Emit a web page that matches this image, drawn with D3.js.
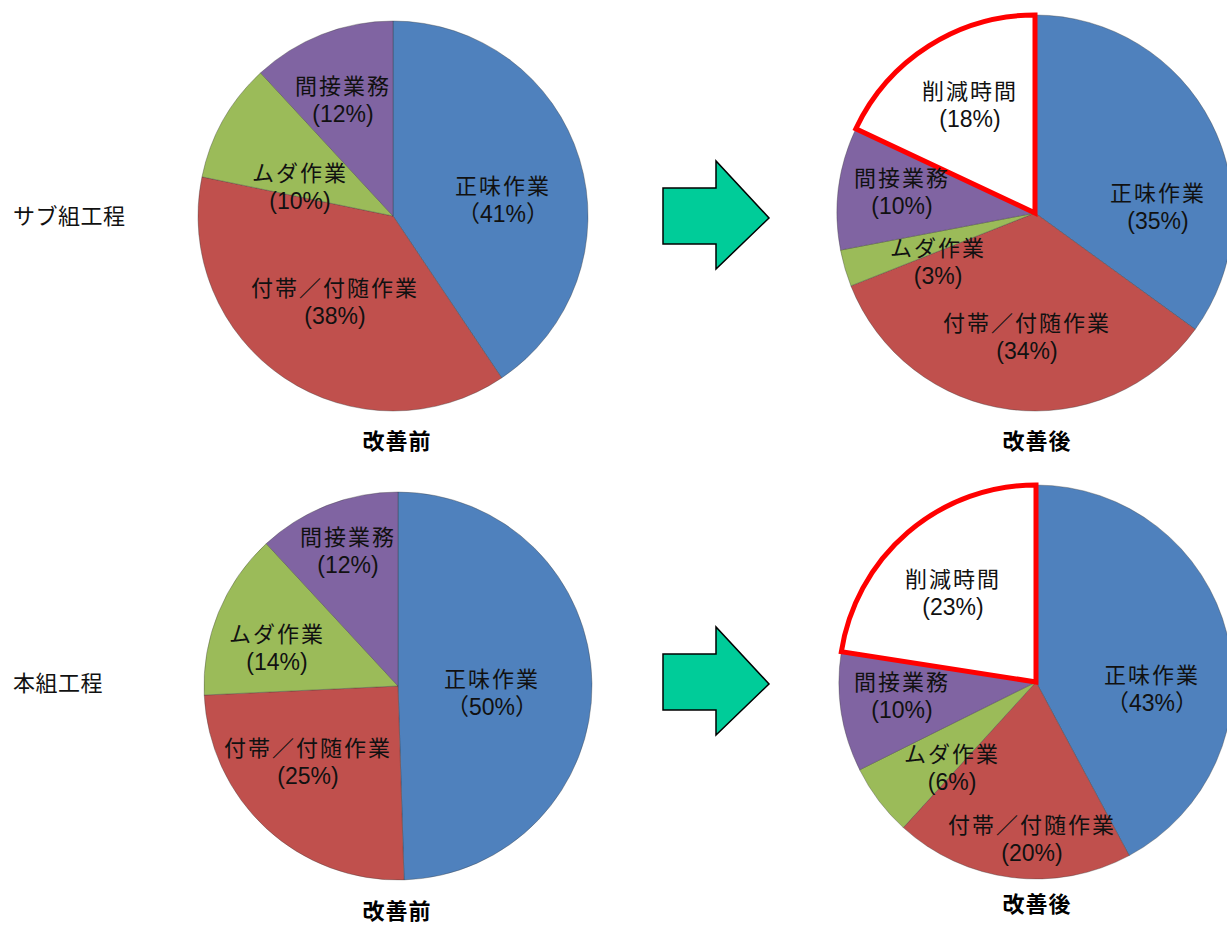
<!DOCTYPE html>
<html><head><meta charset="utf-8">
<script src="https://cdn.jsdelivr.net/npm/d3@7"></script>
<style>
html,body{margin:0;padding:0;background:#fff;}
svg{display:block;}
</style></head>
<body>
<svg id="c" width="1227" height="926"></svg>
<script>
// ---- data ----
const categories = ["正味作業", "付帯／付随作業", "ムダ作業", "間接業務", "削減時間"];
const subBefore  = [41, 38, 10, 12];
const subAfter   = [35, 34, 3, 10, 18];
const mainBefore = [50, 25, 14, 12];
const mainAfter  = [43, 20, 6, 10, 23];
const rowLabels   = ["サブ組工程", "本組工程"];
const panelTitles = ["改善前", "改善後", "改善前", "改善後"];
// fullwidth parentheses used in original for some labels
const fullParen = [
  [true, false, false, false],
  [false, false, false, false, false],
  [true, false, false, false],
  [true, false, false, false, false]
];

// ---- layout ----
const colors = ["#4f81bd", "#c0504d", "#9bbb59", "#8064a2", "#ffffff"];
const panels = [
  {values: subBefore,  cx: 393,  cy: 216, r: 195, title: [397, 442],
   lab: [[110,-17],[-58,85],[-93,-30],[-50,-117]]},
  {values: subAfter,   cx: 1035, cy: 213, r: 198, title: [1037, 442],
   lab: [[123,-7],[-8,123],[-97,48],[-133,-22],[-65,-109]]},
  {values: mainBefore, cx: 398,  cy: 686, r: 194, title: [397, 912],
   lab: [[94,6],[-90,75],[-121,-39],[-50,-136]]},
  {values: mainAfter,  cx: 1036, cy: 682, r: 197, title: [1037, 905],
   lab: [[116,6],[-4,156],[-84,85],[-134,13],[-83,-90]]}
];
const rowLabelPos = [[13, 216], [13, 683]];
const arrowPos = [[663, 216], [663, 682]];

const CJK = "'Noto Sans CJK JP', sans-serif";
const LAT = "'Liberation Sans', Arial, sans-serif";

const svg = d3.select("#c");
const pie = d3.pie().sort(null).value(d => d);

panels.forEach((p, pi) => {
  const g = svg.append("g").attr("transform", `translate(${p.cx},${p.cy})`);
  const arc = d3.arc().innerRadius(0).outerRadius(p.r);
  const arcs = pie(p.values);
  g.selectAll("path.s").data(arcs).join("path")
    .attr("class", "s")
    .attr("d", arc)
    .attr("fill", (d, i) => colors[i])
    .attr("stroke", (d, i) => i === 4 ? "none" : "rgba(60,60,60,0.45)")
    .attr("stroke-width", 0.8);
  // red outline for reduced-time slice
  arcs.forEach((d, i) => {
    if (i === 4) {
      g.append("path").attr("d", arc(d))
        .attr("fill", "none").attr("stroke", "#ff0000")
        .attr("stroke-width", 5).attr("stroke-linejoin", "miter");
    }
  });
  // labels
  arcs.forEach((d, i) => {
    const [dx, dy] = p.lab[i];
    g.append("text")
      .attr("x", dx).attr("y", dy - 5)
      .attr("text-anchor", "middle")
      .attr("fill", "#111")
      .style("font-family", CJK)
      .style("font-size", "22px")
      .style("letter-spacing", "2px")
      .text(categories[i]);
    const full = fullParen[pi][i];
    const t2 = g.append("text")
      .attr("x", dx).attr("y", dy + 23)
      .attr("text-anchor", "middle")
      .attr("fill", "#111")
      .style("font-size", "23px")
      .style("font-family", LAT);
    t2.append("tspan").style("font-family", full ? CJK : LAT).text(full ? "（" : "(");
    t2.append("tspan").style("font-family", LAT).text(`${p.values[i]}%`);
    t2.append("tspan").style("font-family", full ? CJK : LAT).text(full ? "）" : ")");
  });
  // title
  svg.append("text").attr("x", p.title[0]).attr("y", p.title[1] + 7)
    .attr("text-anchor", "middle")
    .style("font-family", CJK)
    .style("font-size", "22px").style("font-weight", "bold")
    .style("letter-spacing", "1px")
    .attr("fill", "#000")
    .text(panelTitles[pi]);
});

rowLabels.forEach((t, i) => {
  svg.append("text").attr("x", rowLabelPos[i][0]).attr("y", rowLabelPos[i][1] + 8)
    .style("font-family", CJK)
    .style("font-size", "22px").style("letter-spacing", "0.5px").attr("fill", "#111")
    .text(t);
});

// arrows
arrowPos.forEach(([x, y]) => {
  const pts = [[0,-28],[53,-28],[53,-55],[106,2],[53,53],[53,28],[0,28]];
  svg.append("path")
    .attr("d", d3.line()(pts.map(([a,b]) => [x + a, y + b])) + "Z")
    .attr("fill", "#00cc99").attr("stroke", "#000").attr("stroke-width", 1.5)
    .attr("stroke-linejoin", "miter");
});
</script>
</body></html>
